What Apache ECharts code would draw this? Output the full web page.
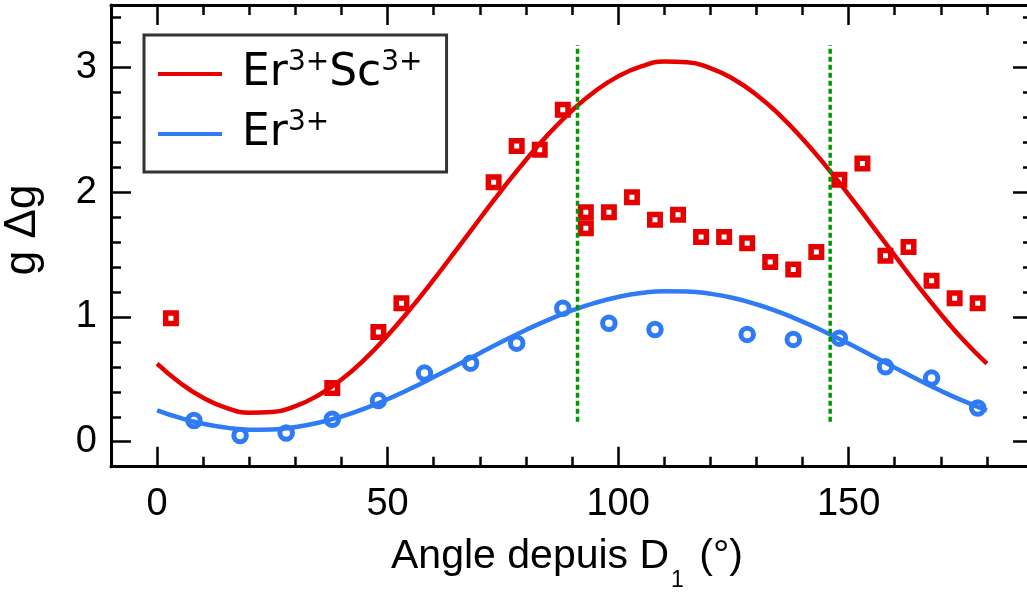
<!DOCTYPE html>
<html>
<head>
<meta charset="utf-8">
<script src="https://cdn.jsdelivr.net/npm/echarts@6/dist/echarts.min.js"></script>
<style>
html,body{margin:0;padding:0;background:#fff;}
#chart{width:1027px;height:592px;}
</style>
</head>
<body>
<div id="chart"></div>
<script>
// ---- data ----
const fitAngles = [0,5,10,15,20,25,30,35,40,45,50,55,60,65,70,75,80,85,90,95,100,105,110,115,120,125,130,135,140,145,150,155,160,165,170,175,180];
const redFit  = [0.626,0.471,0.352,0.272,0.233,0.238,0.285,0.373,0.499,0.660,0.852,1.067,1.299,1.542,1.787,2.029,2.258,2.469,2.654,2.809,2.928,3.008,3.047,3.042,2.995,2.907,2.781,2.620,2.428,2.213,1.981,1.738,1.493,1.251,1.022,0.811,0.626];
const blueFit = [0.252,0.191,0.144,0.113,0.097,0.099,0.118,0.152,0.202,0.266,0.341,0.426,0.518,0.613,0.710,0.805,0.896,0.979,1.052,1.113,1.160,1.192,1.207,1.205,1.186,1.152,1.102,1.038,0.963,0.878,0.787,0.691,0.594,0.499,0.408,0.325,0.252];

const redAngles = [3,38,48,53,73,78,83,88,93,93,98,103,108,113,118,123,128,133,138,143,148,153,158,163,168,173,178];
const redValues = [0.99,0.43,0.88,1.11,2.08,2.37,2.34,2.66,1.84,1.71,1.84,1.96,1.78,1.82,1.64,1.64,1.59,1.44,1.38,1.52,2.10,2.23,1.49,1.56,1.29,1.15,1.11];

const blueAngles = [8,18,28,38,48,58,68,78,88,98,108,128,138,148,158,168,178];
const blueValues = [0.17,0.05,0.07,0.18,0.33,0.55,0.63,0.79,1.07,0.95,0.90,0.86,0.82,0.83,0.60,0.51,0.27];

const markerAngles = [91.2, 146.0];
const markerRange = [0.16, 3.18];

const seriesNames = ['Er3+Sc3+', 'Er3+'];
const xMajor = [0,50,100,150];
const xMinor = [10,20,30,40,60,70,80,90,110,120,130,140,160,170,180];
const yMajor = [0,1,2,3];
const yMinor = [0.2,0.4,0.6,0.8,1.2,1.4,1.6,1.8,2.2,2.4,2.6,2.8,3.2,3.4];
const xRange = [-10, 190];
const yRange = [-0.2, 3.5];

// ---- styles ----
const RED = '#e60000';
const BLUE = '#2f7bf6';
const GREEN = '#009a00';
const AX_FONT = 'Liberation Sans, Arial, sans-serif';

function pairs(xs, ys){ return xs.map((x,i)=>[x, ys[i]]); }

function mkAxis(pos, range, ticks, len, major, labelOpts, extra){
  return Object.assign({
    type:'value', position:pos, min:range[0], max:range[1],
    axisLine:{show:major, onZero:false, lineStyle:{color:'#000', width:3}},
    axisTick:{show:true, inside:true, length:len, customValues:ticks, lineStyle:{color:'#000', width:2.5}},
    axisLabel: labelOpts || {show:false},
    splitLine:{show:false}
  }, extra || {});
}

const chart = echarts.init(document.getElementById('chart'), null, {renderer:'canvas'});

const xLabel = {show:true, customValues:xMajor, fontSize:38, fontFamily:AX_FONT, color:'#000', margin:19};
const yLabel = {show:true, customValues:yMajor, fontSize:38, fontFamily:AX_FONT, color:'#000', margin:14};

const legendText = {
  'Er3+Sc3+': '{n0|Er}{s|3+}{n|Sc}{s|3+}',
  'Er3+': '{n0|Er}{s|3+}'
};

const option = {
  animation:false,
  backgroundColor:'#fff',
  grid:{left:111, top:5, width:922, height:461.7, containLabel:false, outerBoundsMode:'none'},
  legend:{
    data:seriesNames,
    orient:'vertical',
    left:144, top:35,
    padding:[14,24,16,14],
    itemGap:13,
    itemWidth:64, itemHeight:4,
    icon:'rect',
    borderColor:'#333', borderWidth:3, borderRadius:0,
    backgroundColor:'#fff',
    formatter: name => legendText[name],
    textStyle:{
      fontFamily:'DejaVu Sans', color:'#000', fontSize:44,
      rich:{
        n0:{fontFamily:'DejaVu Sans', fontSize:44, lineHeight:50, color:'#000', padding:[0,0,0,15]},
        n:{fontFamily:'DejaVu Sans', fontSize:44, lineHeight:50, color:'#000'},
        s:{fontFamily:'DejaVu Sans', fontSize:28, lineHeight:24, verticalAlign:'top', color:'#000'}
      }
    }
  },
  xAxis:[
    mkAxis('bottom', xRange, xMajor, 20, true, xLabel, {
      name:'{a|Angle depuis D}{b|1}{a| (°)}',
      nameLocation:'middle', nameGap:55,
      nameTextStyle:{
        color:'#000',
        padding:[0,10,0,0],
        rich:{
          a:{fontFamily:AX_FONT, fontSize:41, lineHeight:50, color:'#000'},
          b:{fontFamily:AX_FONT, fontSize:23, lineHeight:70, verticalAlign:'bottom', color:'#000', padding:[0,4,0,2]}
        }
      }
    }),
    mkAxis('bottom', xRange, xMinor, 10, false, null),
    mkAxis('top', xRange, xMajor, 20, true, null),
    mkAxis('top', xRange, xMinor, 10, false, null)
  ],
  yAxis:[
    mkAxis('left', yRange, yMajor, 20, true, yLabel, {
      name:'g Δg', nameLocation:'middle', nameRotate:90, nameGap:66,
      nameTextStyle:{fontFamily:AX_FONT, fontSize:44, color:'#000', padding:[0,0,0,12]}
    }),
    mkAxis('left', yRange, yMinor, 10, false, null),
    mkAxis('right', yRange, yMajor, 20, true, null),
    mkAxis('right', yRange, yMinor, 10, false, null)
  ],
  series:[
    {name:seriesNames[0], type:'line', data:pairs(fitAngles, redFit), smooth:true, showSymbol:false,
     lineStyle:{color:RED, width:4.5}, itemStyle:{color:RED}, z:2, silent:true},
    {name:seriesNames[1], type:'line', data:pairs(fitAngles, blueFit), smooth:true, showSymbol:false,
     lineStyle:{color:BLUE, width:4.5}, itemStyle:{color:BLUE}, z:2, silent:true},
    {name:'pts-red', type:'scatter', data:pairs(redAngles, redValues), symbol:'rect', symbolSize:10.5,
     itemStyle:{color:'rgba(0,0,0,0)', borderColor:RED, borderWidth:5.5, opacity:1}, z:3, silent:true},
    {name:'pts-blue', type:'scatter', data:pairs(blueAngles, blueValues), symbol:'circle', symbolSize:12.5,
     itemStyle:{color:'rgba(0,0,0,0)', borderColor:BLUE, borderWidth:5, opacity:1}, z:3, silent:true},
    {name:'v1', type:'line', data:[[markerAngles[0], markerRange[0]],[markerAngles[0], markerRange[1]]],
     showSymbol:false, lineStyle:{color:GREEN, width:3.5, type:[5,3]}, z:4, silent:true},
    {name:'v2', type:'line', data:[[markerAngles[1], markerRange[0]],[markerAngles[1], markerRange[1]]],
     showSymbol:false, lineStyle:{color:GREEN, width:3.5, type:[5,3]}, z:4, silent:true}
  ]
};
chart.setOption(option);
</script>
</body>
</html>
